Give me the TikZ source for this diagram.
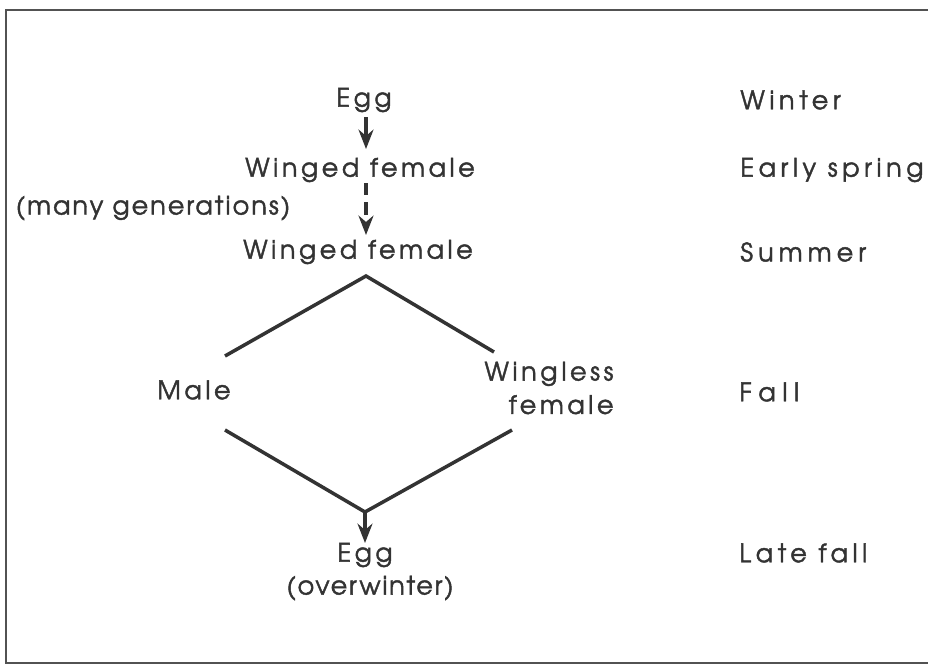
\documentclass[tikz,border=0pt]{standalone}
\usepackage{fontspec}
\setmainfont{texgyreadventor-regular.otf}[LetterSpace=14, FakeBold=1.6]
\usetikzlibrary{arrows.meta}
\definecolor{ink}{HTML}{333333}
\tikzset{
  lbl/.style={text=ink, inner sep=0pt, font=\fontsize{14.5}{19}\selectfont},
  ls/.style={font=\fontsize{14.5}{19}\selectfont\addfontfeature{LetterSpace=#1}},
  conn/.style={draw=ink, line width=2pt},
  arr/.style={conn, -{Stealth[length=11pt,width=8.5pt]}},
  frame/.style={draw=ink!85, line width=1.3pt}
}
\begin{document}
\begin{tikzpicture}[x=0.02cm, y=-0.02cm]
\useasboundingbox (0,0) rectangle (928,666);
% open frame
\draw[frame] (928,10) -- (6,10) -- (6,663) -- (928,663);

% life-cycle stages
\node[lbl] (egg1) at (364,100) {Egg};
\node[lbl] (wf1) at (360,170) {Winged female};
\node[lbl, ls=8] (gen) at (153,208) {(many generations)};
\node[lbl] (wf2) at (358,252) {Winged female};
\node[lbl] (male) at (194,390) {Male};
\node[lbl, align=right] (wl) at (549,388) {Wingless\\female\hspace{10pt}};
\node[lbl] (egg2) at (365,555) {Egg};
\node[lbl, ls=7] (ow) at (370,588) {(overwinter)};

% seasons
\node[lbl, ls=18, anchor=west] (s1) at (740,100) {Winter};
\node[lbl, ls=18, anchor=west] (s2) at (740,170) {Early spring};
\node[lbl, ls=20, anchor=west] (s3) at (740,252) {Summer};
\node[lbl, ls=26, anchor=west] (s4) at (739,392) {Fall};
\node[lbl, ls=18, anchor=west] (s5) at (739,553) {Late fall};

% branch points
\coordinate (a1) at (366,117);
\coordinate (a2) at (366,149);
\coordinate (d1) at (366,183);
\coordinate (d2) at (366,235);
\coordinate (top) at (366,276);
\coordinate (ml) at (225,356);
\coordinate (wr) at (494,352);
\coordinate (ml2) at (225,430);
\coordinate (wr2) at (512,430);
\coordinate (bot) at (365,512);
\coordinate (e2) at (365,543);

\draw[arr] (a1) -- (a2);
\draw[arr, dash pattern=on 7pt off 4pt] (d1) -- (d2);
\draw[conn] (ml) -- (top) -- (wr);
\draw[conn] (ml2) -- (bot) -- (wr2);
\draw[arr] (bot) -- (e2);
\end{tikzpicture}
\end{document}
